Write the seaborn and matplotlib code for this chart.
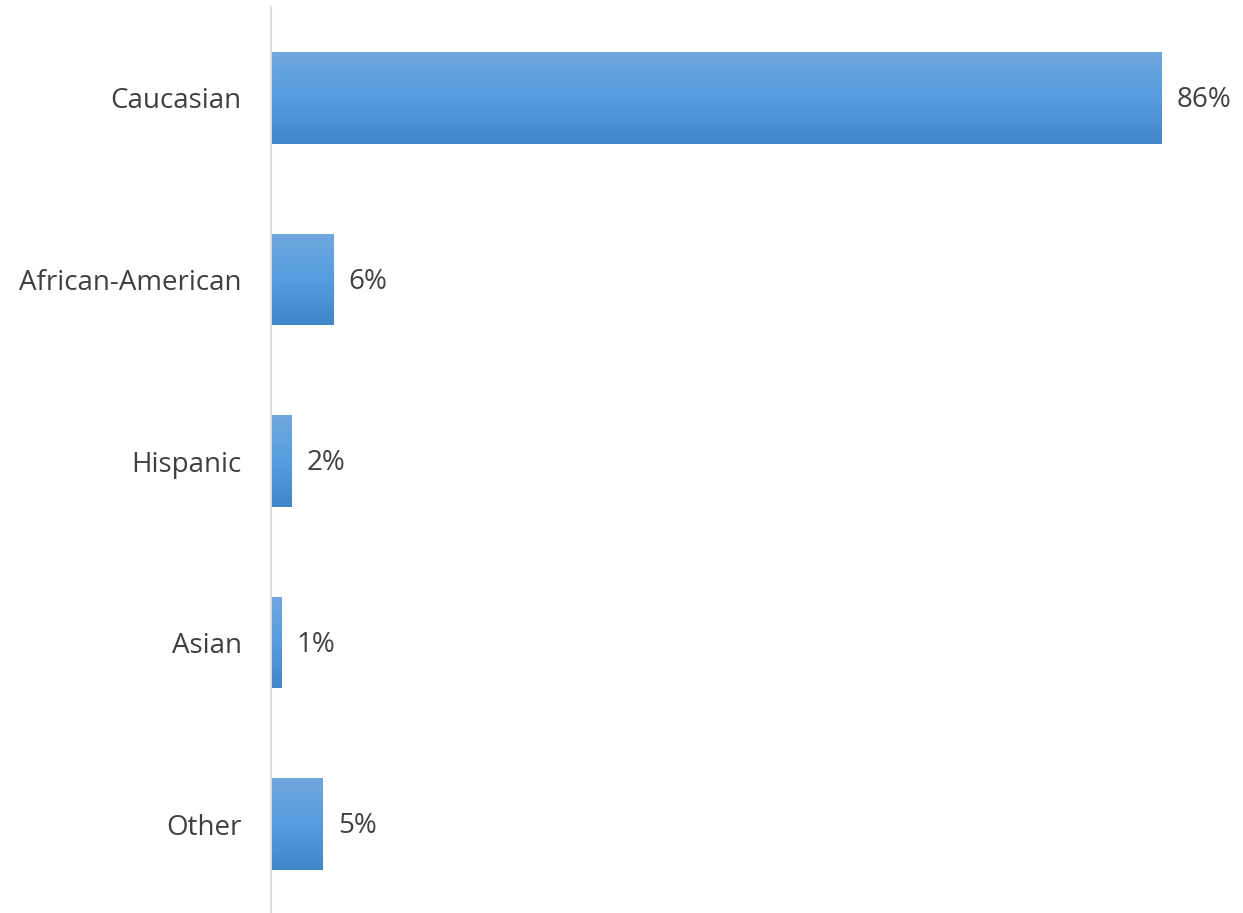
import numpy as np
import pandas as pd
import seaborn as sns
from matplotlib import pyplot as plt
from matplotlib.colors import LinearSegmentedColormap

groups = ['Caucasian', 'African-American', 'Hispanic', 'Asian', 'Other']
shares = [86, 6, 2, 1, 5]

df = pd.DataFrame({'group': groups, 'share': shares})

sns.set_style('white')
plt.rcParams['font.family'] = ['Open Sans', 'DejaVu Sans']

fig = plt.figure(figsize=(12.43, 9.13), dpi=100)
ax = fig.add_axes([271 / 1243, -1.75 / 913, 1 - 271 / 1243, 907.5 / 913])

sns.barplot(data=df, x='share', y='group', orient='h', color='#559DE0',
            width=0.505, ax=ax)

# vertical gradient inside each bar, light on top, darker at the bottom
cmap = LinearSegmentedColormap.from_list('bar', ['#70A7DD', '#559DE0', '#3F87C8'])
grad = np.linspace(0, 1, 256).reshape(-1, 1)
for p in ax.patches:
    x0, y0 = p.get_x(), p.get_y()
    w, h = p.get_width(), p.get_height()
    im = ax.imshow(grad, cmap=cmap, aspect='auto',
                   extent=[x0, x0 + w, y0 + h, y0], zorder=p.get_zorder() + 0.1)
    im.set_clip_path(p)

for p, v in zip(ax.patches, shares):
    ax.annotate(f'{v}%', (p.get_width(), p.get_y() + p.get_height() / 2),
                xytext=(11, -1.5), textcoords='offset points', va='center',
                ha='left', fontsize=20, color='#404040')

ax.set_xlim(0, 93.9)
ax.set_ylim(4.5, -0.5)
ax.set_xlabel('')
ax.set_ylabel('')
ax.set_xticks([])
ax.tick_params(axis='y', length=0, pad=21, labelsize=20, labelcolor='#404040')

for s in ['top', 'right', 'bottom']:
    ax.spines[s].set_visible(False)
ax.spines['left'].set_color('#DCDCDC')
ax.spines['left'].set_linewidth(1.5)

fig.savefig('out.png', dpi=100)
